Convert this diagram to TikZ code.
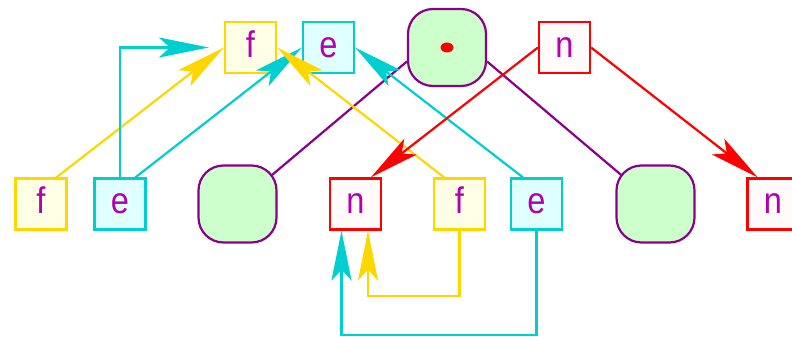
\documentclass[tikz,border=0pt]{standalone}
\usepackage{fontspec}
\newfontfamily\labelfont[FakeStretch=0.88]{Liberation Sans}
\usetikzlibrary{arrows.meta,backgrounds}

\definecolor{fgold}{RGB}{255,215,0}
\definecolor{fgoldbg}{RGB}{255,255,230}
\definecolor{eturq}{RGB}{0,206,209}
\definecolor{eturqbg}{RGB}{224,255,255}
\definecolor{nred}{RGB}{255,0,0}
\definecolor{nredbg}{RGB}{255,251,250}
\definecolor{blobgreen}{RGB}{204,255,204}
\definecolor{blobpurple}{RGB}{139,0,139}
\definecolor{lettercol}{RGB}{176,0,176}

\begin{document}
\begin{tikzpicture}[
    x=1pt, y=1pt,
    node distance=118pt,
    line width=2.2pt,
    >={Stealth[length=50pt,width=20pt,inset=11pt]},
    box/.style={draw, line width=2.2pt, minimum size=51pt, inner sep=0pt, text height=19pt, text depth=0pt,
        font=\labelfont\fontsize{37}{37}\selectfont, text=lettercol},
    ybox/.style={box, draw=fgold, fill=fgoldbg},
    cbox/.style={box, draw=eturq, fill=eturqbg},
    rbox/.style={box, draw=nred, fill=nredbg},
    blob/.style={draw=blobpurple, line width=2.2pt, fill=blobgreen, rounded corners=25pt, minimum width=78pt, minimum height=77pt},
    stem/.style={draw=blobpurple, line width=2.2pt}
]
\useasboundingbox (0,0) rectangle (792,-337);

% upper row
\node[ybox] (tf) at (250.5,-47.5) {f};
\node[cbox, right of=tf, node distance=78pt] (te) {e};
\node[blob, right of=te, node distance=118.5pt] (dot) {};
\node[rbox, right of=dot, node distance=117.5pt] (tn) {n};
\fill[nred] (dot.center) ellipse [x radius=6.5pt, y radius=5pt];

% lower row
\node[blob, below of=tf, node distance=156.5pt, xshift=-13pt] (g1) {};
\node[cbox, left of=g1, node distance=117.5pt] (be1) {e};
\node[ybox, left of=be1, node distance=79pt] (bf1) {f};
\node[rbox, right of=g1] (bn1) {n};
\node[ybox, right of=bn1, node distance=104pt] (bf2) {f};
\node[cbox, right of=bf2, node distance=77pt] (be2) {e};
\node[blob, right of=be2, node distance=119pt] (g2) {};
\node[rbox, right of=g2, node distance=117.5pt] (bn2) {n};

\begin{scope}[on background layer]
\draw[stem] (g1.center) -- ([yshift=-14pt]dot.west);
\draw[stem] (g2.center) -- ([yshift=-14pt]dot.east);
\end{scope}

\draw[fgold,->] (bf1.60) -- (tf.west);
\draw[eturq,->] (be1.north) |- ([xshift=-15pt]tf.west);
\draw[eturq,->] (be1.60) -- (te.west);
\draw[fgold,->] (bf2.120) -- (tf.east);
\draw[eturq,->] (be2.117) -- (te.east);
\draw[nred,->] (tn.west) -- (bn1.60);
\draw[nred,->] (tn.east) -- (bn2.120);

\draw[fgold,->] (bf2.south) -- ++(0,-65) -| ([xshift=12.5pt]bn1.south);
\draw[eturq,->] (be2.south) -- ++(0,-104) -| ([xshift=-14pt]bn1.south);

\end{tikzpicture}
\end{document}
